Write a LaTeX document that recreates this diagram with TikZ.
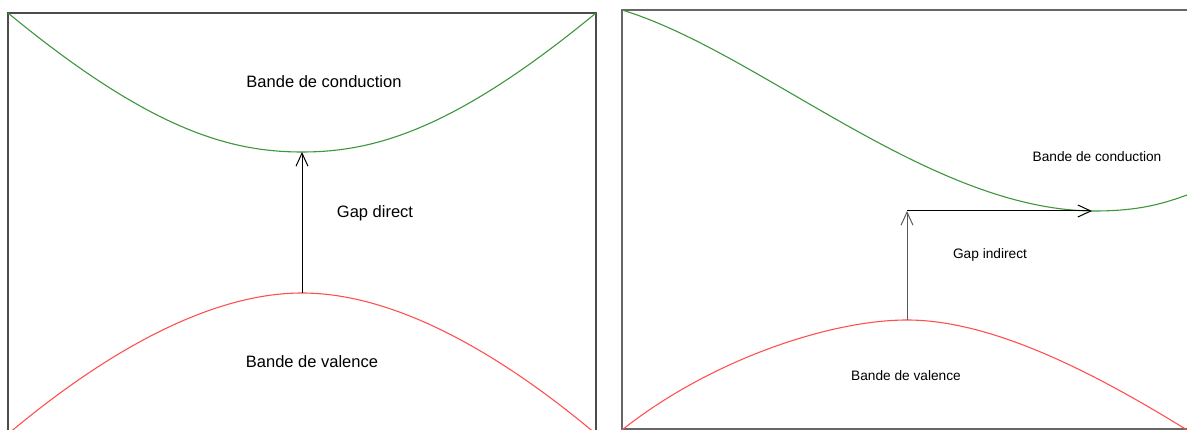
\documentclass[tikz,border=0pt]{standalone}
\usepackage{fontspec}
\setmainfont{Liberation Sans}
\usetikzlibrary{positioning,arrows.meta}
\definecolor{vertbande}{RGB}{60,150,60}
\definecolor{rougebande}{RGB}{255,80,80}

\begin{document}
\begin{tikzpicture}[x=1pt,y=-1pt,
	cadre/.style={draw=black!70,line width=1.2pt},
	conduction/.style={draw=vertbande,line width=1.1pt},
	valence/.style={draw=rougebande,line width=1.1pt},
	fleche/.style={-{Straight Barb[length=13pt,width=12pt]},line width=1pt},
	grand/.style={font=\fontsize{16.5}{19}\selectfont},
	petit/.style={font=\fontsize{13.7}{16}\selectfont}]
	\useasboundingbox (0,0) rectangle (1187,430);
	\clip (0,0) rectangle (1187,430);
	
	% 左图：直接带隙
	\draw[cadre] (8,440) -- (8,13) -- (596,13) -- (596,440);
	\draw[conduction] (8,13) .. controls (150,130) and (230,152) .. (302,152)
		.. controls (374,152) and (454,130) .. (596,13);
	\draw[valence] (8,434) .. controls (120,340) and (220,293) .. (302,293)
		.. controls (384,293) and (484,340) .. (596,434);
	\coordinate (maxvL) at (302,293);
	\coordinate (mincL) at (302,152);
	\draw[fleche] (maxvL) -- (mincL);
	\node[grand] (condL) at (324,82) {Bande de conduction};
	\node[grand] (gapL) at (375,213) {Gap direct};
	\node[grand] (valL) at (312,362) {Bande de valence};
	
	% 右图：间接带隙
	\draw[cadre,draw=black!60] (1195,10) -- (622,10) -- (622,429) -- (1195,429);
	\draw[conduction] (622,10) .. controls (760,52) and (930,211) .. (1095,211)
		.. controls (1140,211) and (1165,203) .. (1187,195);
	\draw[valence] (622,430) .. controls (710,360) and (830,320) .. (907,320)
		.. controls (990,320) and (1090,370) .. (1187,430);
	\coordinate (maxvR) at (907,320);
	\coordinate (coinR) at (907,211);
	\coordinate (mincR) at (1092,211);
	\draw[fleche,draw=black!65] (maxvR) -- (coinR);
	\draw[fleche] (coinR) -- (mincR);
	\node[petit] (condR) at (1097,157) {Bande de conduction};
	\node[petit] (gapR) at (990,255) {Gap indirect};
	\node[petit] (valR) at (906,376) {Bande de valence};
\end{tikzpicture}
\end{document}
